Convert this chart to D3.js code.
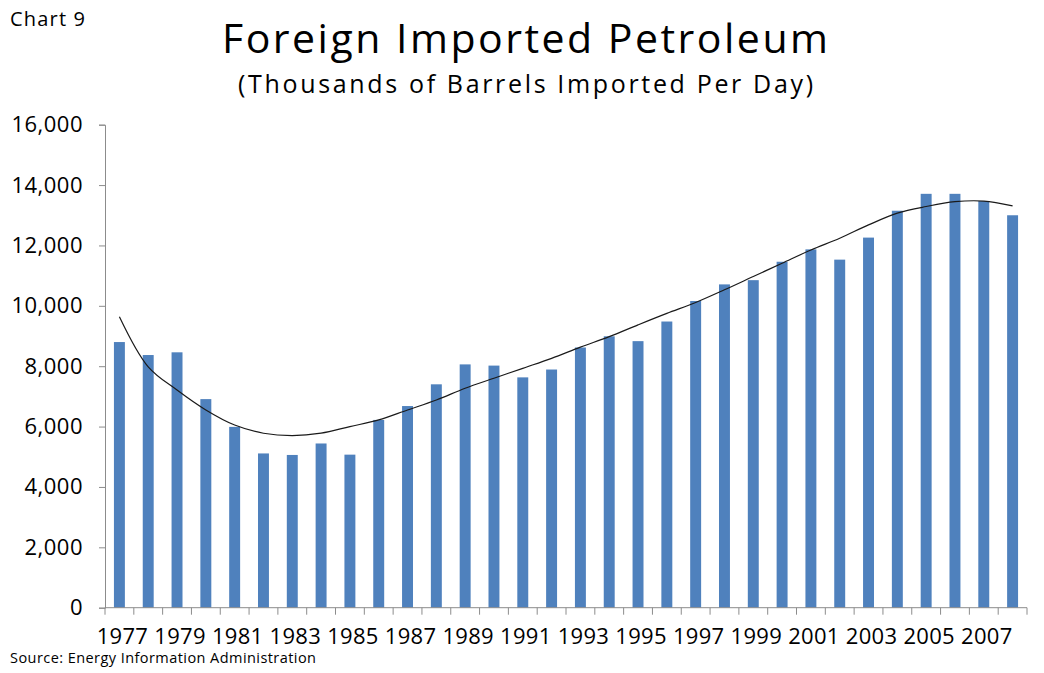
<!DOCTYPE html>
<html>
<head>
<meta charset="utf-8">
<script src="https://cdn.jsdelivr.net/npm/d3@7"></script>
<style>
  body { margin: 0; background: #fff; }
  svg { display: block; }
</style>
</head>
<body>
<div id="chart"></div>
<script>
// years on the category axis
const years = d3.range(1977, 2009);
// barrels imported per day (thousands)
const imports = [8800, 8370, 8460, 6910, 5990, 5110, 5060, 5440, 5070, 6220,
                 6680, 7400, 8060, 8020, 7630, 7890, 8620, 8990, 8830, 9480,
                 10160, 10710, 10850, 11460, 11870, 11530, 12260, 13150, 13710, 13710,
                 13470, 13000];
// polynomial trend line at each year
const trend = [9640, 7980, 7210, 6550, 6050, 5780, 5700, 5780, 6000, 6220,
               6550, 6880, 7270, 7600, 7930, 8260, 8630, 8980, 9370, 9750,
               10110, 10530, 10970, 11410, 11850, 12240, 12680, 13070, 13290, 13450,
               13470, 13310];
const yTicks = [0, 2000, 4000, 6000, 8000, 10000, 12000, 14000, 16000];
const xLabels = years.filter((y, i) => i % 2 === 0);

const W = 1044, H = 673;
const margin = {top: 124.7, right: 17, bottom: 65.3, left: 105};
const width = W - margin.left - margin.right;
const height = H - margin.top - margin.bottom;
const font = "'Open Sans', sans-serif";

const svg = d3.select("#chart").append("svg")
    .attr("width", W)
    .attr("height", H);

// titles
svg.append("text")
    .attr("x", 10).attr("y", 26)
    .attr("font-family", font)
    .attr("font-size", "20px")
    .attr("textLength", 75)
    .attr("lengthAdjust", "spacing")
    .attr("fill", "#000")
    .text("Chart 9");

svg.append("text")
    .attr("x", 222).attr("y", 53)
    .attr("font-family", font)
    .attr("font-size", "41px")
    .attr("textLength", 606)
    .attr("lengthAdjust", "spacing")
    .attr("fill", "#000")
    .text("Foreign Imported Petroleum");

svg.append("text")
    .attr("x", 238).attr("y", 93)
    .attr("font-family", font)
    .attr("font-size", "25px")
    .attr("textLength", 575)
    .attr("lengthAdjust", "spacing")
    .attr("fill", "#000")
    .text("(Thousands of Barrels Imported Per Day)");

svg.append("text")
    .attr("x", 10).attr("y", 663)
    .attr("font-family", font)
    .attr("font-size", "14.5px")
    .attr("textLength", 306)
    .attr("lengthAdjust", "spacing")
    .attr("fill", "#000")
    .text("Source:  Energy Information Administration");

const g = svg.append("g")
    .attr("transform", "translate(" + margin.left + "," + margin.top + ")");

const xScale = d3.scaleBand().domain(years).range([0, width]).padding(0);
const yScale = d3.scaleLinear().domain([0, 16000]).range([height, 0]);

// bars
const barW = xScale.bandwidth() * 0.38;
g.selectAll(".bar")
    .data(years)
    .join("rect")
    .attr("class", "bar")
    .attr("x", (d) => xScale(d) + (xScale.bandwidth() - barW) / 2)
    .attr("y", (d, i) => yScale(imports[i]))
    .attr("width", barW)
    .attr("height", (d, i) => height - yScale(imports[i]))
    .attr("fill", "#4F81BD");

// y axis
const yAxisG = g.append("g")
    .call(d3.axisLeft(yScale).tickValues(yTicks).tickFormat(d3.format(",")).tickSize(6).tickPadding(16));
yAxisG.select(".domain").attr("stroke", "#8c8c8c");
yAxisG.selectAll(".tick line").attr("stroke", "#8c8c8c");
yAxisG.selectAll(".tick text")
    .attr("font-family", font)
    .attr("font-size", "22px")
    .attr("letter-spacing", "0.5px")
    .attr("fill", "#000");

// x axis: ticks between categories, labels on every other year
const xAxisG = g.append("g").attr("transform", "translate(0," + height + ")");
xAxisG.append("line")
    .attr("x1", 0).attr("x2", width)
    .attr("stroke", "#8c8c8c");
xAxisG.selectAll(".xtick")
    .data(years.concat([2009]))
    .join("line")
    .attr("class", "xtick")
    .attr("x1", (d, i) => i * xScale.step())
    .attr("x2", (d, i) => i * xScale.step())
    .attr("y1", 0).attr("y2", 7)
    .attr("stroke", "#8c8c8c");
xAxisG.selectAll(".xlabel")
    .data(xLabels)
    .join("text")
    .attr("class", "xlabel")
    .attr("x", (d) => xScale(d) + xScale.bandwidth() / 2 + 3)
    .attr("y", 36)
    .attr("text-anchor", "middle")
    .attr("font-family", font)
    .attr("font-size", "22px")
    .attr("letter-spacing", "0.3px")
    .attr("fill", "#000")
    .text((d) => d);

// trend line
const line = d3.line()
    .x((d, i) => xScale(years[i]) + xScale.bandwidth() / 2)
    .y((d) => yScale(d))
    .curve(d3.curveCatmullRom);
g.append("path")
    .datum(trend)
    .attr("d", line)
    .attr("fill", "none")
    .attr("stroke", "#1a1a1a")
    .attr("stroke-width", 1.2);
</script>
</body>
</html>
